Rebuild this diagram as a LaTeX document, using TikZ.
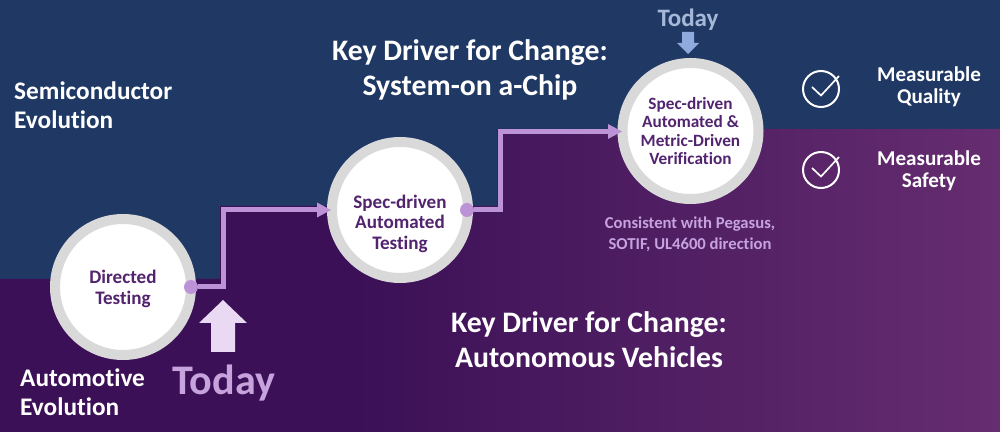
\documentclass[tikz,border=0pt]{standalone}
\usepackage{fontspec}
\setmainfont{Carlito}[Ligatures=NoCommon]
\definecolor{navy}{HTML}{203864}
\definecolor{plumA}{HTML}{3B1056}
\definecolor{plumB}{HTML}{662D70}
\definecolor{ring}{HTML}{D9D9D9}
\definecolor{lilac}{HTML}{BC93D6}
\definecolor{plumtext}{HTML}{52236F}
\definecolor{paleup}{HTML}{E9D9F2}
\definecolor{blueA}{HTML}{8FAADC}
\definecolor{todaygrey}{HTML}{A6B8D8}
\definecolor{noteC}{HTML}{C6A3E0}
\newcommand{\fsz}[1]{\fontsize{#1}{#1}\selectfont}
\tikzset{
  x=0.03cm,y=-0.03cm,
  stage/.style={circle,draw=ring,fill=white,line width=0.3cm,minimum size=4.08cm,inner sep=0pt,align=center,text=plumtext,font=\bfseries\fsz{16.3}},
  big/.style={text=white,align=center,font=\bfseries\fsz{25.4},inner sep=0pt},
  side/.style={text=white,align=left,font=\bfseries\fsz{21.6},inner sep=0pt},
  meas/.style={text=white,align=center,font=\bfseries\fsz{18},inner sep=0pt},
  dotnode/.style={circle,fill=lilac,minimum size=0.42cm,inner sep=0pt},
  flow/.style={draw=lilac,line width=0.15cm,line join=miter},
  head/.style={fill=lilac},
  tick/.style={draw=white,line width=0.05cm},
}
\begin{document}
\begin{tikzpicture}
\useasboundingbox (0,0) rectangle (1000,432);
\fill[navy] (0,0) rectangle (1000,432);
\begin{scope}
\clip (0,279) -- (220,279) -- (220,206) -- (497,206) -- (497,129) -- (1000,129) -- (1000,432) -- (0,432) -- cycle;
\fill[plumA] (0,0) rectangle (351,432);
\shade[left color=plumA,right color=plumB] (350,0) rectangle (1000,432);
\end{scope}
% stages
\node[stage] (n1) at (123,287) {\mbox{}\\[-2.2pt]Directed\\[1.7pt]Testing};
\node[stage] (n2) at (400,210) {\mbox{}\\[18.9pt]Spec-driven\\[1.2pt]Automated\\[1.2pt]Testing};
\node[stage,font=\bfseries\fsz{14.7}] (n3) at (690.5,131) {Spec-driven\\[0.9pt]Automated \&\\[0.9pt]Metric-Driven\\[0.9pt]Verification};
\node[dotnode] (d1) at (191,287) {};
\node[dotnode] (d2) at (467,210) {};
% connectors
\coordinate (b1) at (223,287);
\coordinate (b2) at (223,210);
\coordinate (e1) at (318,210);
\coordinate (t1) at (331,210);
\coordinate (b3) at (500,210);
\coordinate (b4) at (500,131.5);
\coordinate (e2) at (609,131.5);
\coordinate (t2) at (622,131.5);
\draw[flow] (d1) -- (b1) -- (b2) -- (e1);
\draw[flow] (d2) -- (b3) -- (b4) -- (e2);
\fill[head] (t1) -- (317,202.5) -- (317,217.5) -- cycle;
\fill[head] (t2) -- (608,124) -- (608,139) -- cycle;
% labels
\node[side,anchor=west] (semi) at (14,105) {Semiconductor\\[3pt]Evolution};
\node[side,anchor=west] (auto) at (20,392.5) {Automotive\\[3pt]Evolution};
\node[big] (kd1) at (470,70) {Key Driver for Change:\\[4pt]System-on a-Chip};
\node[big] (kd2) at (589,339.5) {Key Driver for Change:\\[4pt]Autonomous Vehicles};
\node[text=lilac!85!white,font=\bfseries\fsz{36},inner sep=0pt] (today1) at (224,383) {Today};
\node[text=todaygrey,font=\bfseries\fsz{21.4},inner sep=0pt] (today2) at (688,19.5) {Today};
\node[text=noteC,align=center,font=\bfseries\fsz{14.2},inner sep=0pt] (note) at (690,234.5) {Consistent with Pegasus,\\[3.5pt]SOTIF, UL4600 direction};
\node[meas] (m1) at (929,86.5) {Measurable\\[1pt]Quality};
\node[meas] (m2) at (929,170.5) {Measurable\\[1pt]Safety};
% arrows
\fill[paleup] (223,300) -- (247,323) -- (235,323) -- (235,352) -- (211,352) -- (211,323) -- (199,323) -- cycle;
\fill[blueA] (688,54) -- (699,43) -- (694,43) -- (694,32) -- (682,32) -- (682,43) -- (677,43) -- cycle;
% check icons
\node[circle,draw=white,line width=0.06cm,minimum size=1.08cm,inner sep=0pt] (c1) at (821,89) {};
\node[circle,draw=white,line width=0.06cm,minimum size=1.08cm,inner sep=0pt] (c2) at (821,170) {};
\draw[tick] (812,87) -- (821,95.5) -- (839,76);
\draw[tick] (812,168) -- (821,176.5) -- (839,157);
\end{tikzpicture}
\end{document}
